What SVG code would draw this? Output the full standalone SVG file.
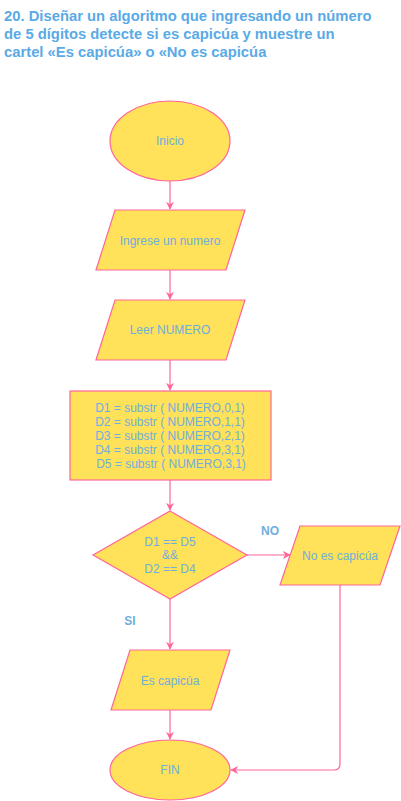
<svg xmlns="http://www.w3.org/2000/svg" width="401" height="801" viewBox="0 0 401 801">
<defs>
<style>
.t{font-family:"Liberation Sans",Arial,sans-serif;font-weight:bold;font-size:14.8px;fill:#5AAAE6}
.n{fill:#FFE15A;stroke:#FF6699;stroke-width:1.2}
.l{font-family:"Liberation Sans",Arial,sans-serif;font-size:12px;fill:#6FAEDD;text-anchor:middle;dominant-baseline:central}
.lb{font-family:"Liberation Sans",Arial,sans-serif;font-size:12px;font-weight:bold;fill:#6FAEDD;text-anchor:middle;dominant-baseline:central}
.c{fill:none;stroke:#FF6699;stroke-width:1.2}
</style>
<marker id="a" viewBox="0 0 10 10" refX="9" refY="5" markerWidth="8" markerHeight="8" markerUnits="userSpaceOnUse" orient="auto">
<path d="M0,0 L10,5 L0,10 L3,5 Z" fill="#FF6699"/>
</marker>
</defs>
<rect width="401" height="801" fill="#FFFFFF"/>
<g id="title">
<text class="t" x="4" y="21">20. Diseñar un algoritmo que ingresando un número</text>
<text class="t" x="4" y="39">de 5 dígitos detecte si es capicúa y muestre un</text>
<text class="t" x="4" y="57">cartel «Es capicúa» o «No es capicúa</text>
</g>
<g id="connectors">
<path class="c" d="M170,181 V209" marker-end="url(#a)"/>
<path class="c" d="M170,270 V299" marker-end="url(#a)"/>
<path class="c" d="M170,360 V390" marker-end="url(#a)"/>
<path class="c" d="M170,480 V510" marker-end="url(#a)"/>
<path class="c" d="M247,555 H290" marker-end="url(#a)"/>
<path class="c" d="M170,599 V649" marker-end="url(#a)"/>
<path class="c" d="M170,710 V739" marker-end="url(#a)"/>
<path class="c" d="M340,585 V764 Q340,770 334,770 H231" marker-end="url(#a)"/>
<text class="lb" x="270" y="531">NO</text>
<text class="lb" x="130" y="621">SI</text>
</g>
<g id="inicio">
<ellipse class="n" cx="170" cy="141" rx="60" ry="40"/>
<text class="l" x="170" y="141">Inicio</text>
</g>
<g id="ingrese">
<polygon class="n" points="115,210 245,210 226,270 96,270"/>
<text class="l" x="170" y="241">Ingrese un numero</text>
</g>
<g id="leer">
<polygon class="n" points="115,300 245,300 226,360 96,360"/>
<text class="l" x="170" y="330">Leer NUMERO</text>
</g>
<g id="proceso">
<rect class="n" x="70" y="391" width="201" height="89"/>
<text class="l" x="170" y="408">D1 = substr ( NUMERO,0,1)</text>
<text class="l" x="170" y="422">D2 = substr ( NUMERO,1,1)</text>
<text class="l" x="170" y="436">D3 = substr ( NUMERO,2,1)</text>
<text class="l" x="170" y="450">D4 = substr ( NUMERO,3,1)</text>
<text class="l" x="171" y="464">D5 = substr ( NUMERO,3,1)</text>
</g>
<g id="decision">
<polygon class="n" points="170,511 247,555 170,599 93,555"/>
<text class="l" x="170" y="542">D1 == D5</text>
<text class="l" x="170" y="555">&amp;&amp;</text>
<text class="l" x="170" y="569">D2 == D4</text>
</g>
<g id="no">
<polygon class="n" points="300,526 400,526 380,585 280,585"/>
<text class="l" x="340" y="556">No es capicúa</text>
</g>
<g id="si">
<polygon class="n" points="130,650 230,650 211,710 111,710"/>
<text class="l" x="170" y="681">Es capicúa</text>
</g>
<g id="fin">
<ellipse class="n" cx="170" cy="770" rx="60" ry="30"/>
<text class="l" x="170" y="770">FIN</text>
</g>
</svg>
